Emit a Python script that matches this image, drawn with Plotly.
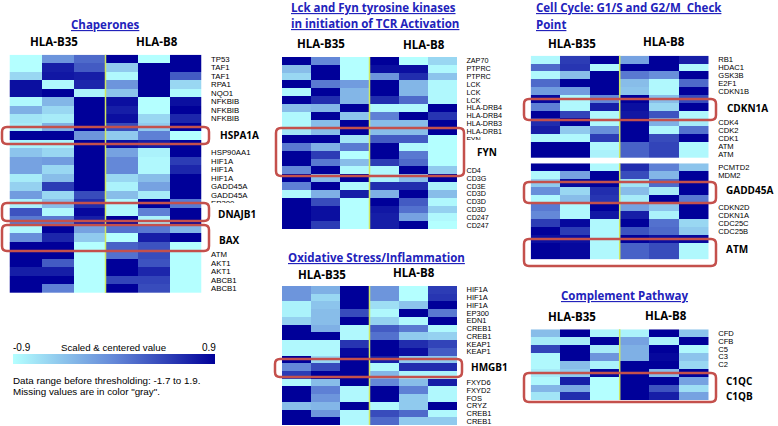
import plotly.graph_objects as go

W, H = 778, 426

# ---------- data: rows of [B35 a, b, c, B8 a, b, c] ----------
chaperone_genes = ["TP53", "TAF1", "TAF1", "RPA1", "NQO1", "NFKBIB", "NFKBIB", "NFKBIB", "", "", "", "HSP90AA1",
                   "HIF1A", "HIF1A", "HIF1A", "GADD45A", "GADD45A", "EP300", "", "", "BAX", "", "", "ATM",
                   "AKT1", "AKT1", "ABCB1", "ABCB1"]
chaperone_values = [
    [-0.9, -0.1, 0.2, 0.9, -0.9, 0.9], [-0.9, 0.7, 0.3, -0.5, 0.9, 0.9], [-0.6, 0.75, 0.7, -0.85, 0.9, 0.3],
    [0.8, -0.85, 0.65, -0.1, 0.9, -0.6], [0.8, 0.9, -0.8, -0.45, 0.9, -0.85], [-0.85, -0.35, 0.9, 0.8, -0.9, 0.8],
    [-0.3, -0.6, 0.9, 0.7, -0.9, 0.9], [-0.7, -0.75, 0.9, 0.8, -0.6, 0.65], [-0.75, -0.3, 0.9, 0.4, -0.5, 0.9],
    [0.9, 0.9, -0.1, -0.5, 0.05, -0.9], [-0.8, -0.8, 0.9, 0.8, 0.7, 0.9], [-0.45, -0.6, 0.9, -0.2, -0.8, 0.9],
    [-0.2, -0.15, 0.9, 0.0, -0.85, 0.5], [-0.2, -0.6, 0.9, 0.0, -0.85, 0.65], [-0.75, -0.4, 0.9, -0.6, -0.4, 0.9],
    [-0.55, 0.5, 0.9, -0.8, -0.2, 0.9], [-0.15, -0.6, 0.4, -0.4, -0.75, 0.9], [-0.8, -0.4, 0.6, -0.85, 0.9, 0.1],
    [0.35, -0.85, 0.85, -0.85, 0.05, 0.9], [0.1, 0.1, 0.7, 0.9, -0.8, 0.9], [-0.85, 0.9, -0.2, 0.15, 0.1, -0.35],
    [-0.05, 0.65, -0.5, -0.9, 0.7, 0.9], [0.9, 0.9, -0.9, 0.25, 0.35, -0.9], [0.9, 0.9, -0.9, 0.15, 0.4, -0.9],
    [0.9, 0.3, -0.9, 0.9, 0.35, -0.9], [0.7, 0.7, -0.9, 0.9, 0.65, -0.9], [0.9, 0.9, -0.9, 0.45, 0.45, -0.9],
    [0.9, 0.05, -0.9, 0.9, 0.4, -0.9],
]

lck_genes = ["ZAP70", "PTPRC", "PTPRC", "LCK", "LCK", "LCK", "HLA-DRB4", "HLA-DRB4", "HLA-DRB3", "HLA-DRB1", "FYN",
             "", "", "", "CD4", "CD3G", "CD3E", "CD3D", "CD3D", "CD3D", "CD247", "CD247"]
lck_values = [
    [0.9, 0.0, -0.9, 0.9, -0.9, -0.6], [-0.4, 0.9, -0.9, 0.8, 0.8, -0.85], [-0.6, 0.9, -0.9, -0.1, 0.6, -0.45],
    [0.9, 0.1, -0.15, 0.9, -0.35, -0.85], [-0.85, 0.9, -0.35, 0.9, -0.35, -0.85], [0.9, 0.6, -0.35, 0.6, 0.2, -0.85],
    [-0.4, -0.35, 0.9, -0.85, -0.85, 0.9], [-0.85, 0.9, -0.45, 0.05, 0.9, 0.55], [-0.85, -0.4, 0.9, -0.4, -0.4, 0.9],
    [-0.7, -0.4, 0.9, -0.4, -0.4, 0.9], [0.9, 0.9, -0.7, 0.3, 0.3, -0.9], [0.1, -0.3, 0.1, 0.9, -0.85, -0.9],
    [0.9, 0.5, -0.9, 0.9, 0.1, -0.9], [0.9, 0.1, -0.4, 0.5, 0.2, -0.9], [0.0, 0.9, -0.85, -0.85, 0.9, -0.5],
    [0.9, -0.4, 0.9, -0.8, -0.4, 0.9], [0.05, 0.9, -0.85, 0.6, 0.6, -0.8], [-0.85, -0.3, 0.7, -0.3, 0.9, -0.4],
    [0.9, 0.4, -0.9, 0.9, 0.3, -0.85], [0.9, 0.8, -0.9, 0.75, 0.15, -0.55], [0.9, 0.8, -0.9, 0.7, -0.2, -0.85],
    [0.9, 0.5, -0.9, 0.7, 0.9, -0.9],
]

oxidative_genes = ["HIF1A", "HIF1A", "HIF1A", "EP300", "EDN1", "CREB1", "CREB1", "KEAP1", "KEAP1", "", "", "",
                   "FXYD6", "FXYD2", "FOS", "CRYZ", "CREB1", "CREB1"]
oxidative_values = [
    [-0.1, -0.3, 0.9, -0.1, -0.9, 0.5], [-0.1, -0.6, 0.9, -0.1, -0.9, 0.55], [-0.8, -0.45, 0.9, -0.65, -0.45, 0.9],
    [-0.8, -0.4, 0.4, -0.85, 0.9, 0.1], [-0.55, -0.4, 0.9, -0.55, -0.85, 0.9], [0.9, -0.3, -0.85, 0.3, 0.1, -0.85],
    [0.9, 0.9, -0.85, 0.15, -0.5, -0.55], [-0.85, -0.85, 0.55, 0.9, 0.6, 0.45], [-0.85, -0.85, 0.85, 0.9, 0.8, 0.3],
    [0.9, -0.6, 0.9, 0.7, -0.5, -0.5], [0.0, 0.4, 0.9, -0.85, 0.6, 0.6], [0.5, 0.9, 0.9, -0.35, -0.8, -0.8],
    [-0.85, -0.4, 0.9, 0.0, -0.4, 0.7], [0.9, 0.05, -0.85, 0.9, 0.05, -0.85], [0.9, -0.1, -0.85, 0.9, -0.5, -0.85],
    [-0.4, -0.35, 0.9, -0.85, -0.5, 0.9], [0.9, -0.1, -0.85, 0.4, 0.2, -0.85], [0.9, 0.9, -0.85, 0.2, -0.5, -0.5],
]

cycle_top_genes = ["RB1", "HDAC1", "GSK3B", "E2F1", "CDKN1B", "", "", "", "CDK4", "CDK2", "CDK1", "ATM", "ATM"]
cycle_top_values = [
    [-0.85, 0.5, 0.9, -0.2, 0.9, 0.7], [0.2, 0.55, -0.85, 0.9, 0.9, -0.85], [-0.85, -0.4, 0.9, 0.1, -0.05, 0.9],
    [0.2, 0.9, 0.9, -0.4, -0.85, 0.2], [-0.15, -0.15, 0.9, -0.45, -0.85, 0.9], [0.85, -0.85, 0.0, 0.9, -0.4, 0.4],
    [0.05, -0.85, 0.7, 0.8, -0.6, 0.9], [0.9, 0.45, -0.85, 0.75, 0.35, -0.85], [0.6, 0.9, -0.85, 0.9, -0.3, -0.75],
    [0.7, -0.5, -0.05, 0.9, -0.85, 0.15], [-0.85, -0.85, 0.5, 0.9, 0.4, 0.9], [0.9, 0.9, -0.85, 0.25, 0.45, -0.85],
    [0.9, 0.9, -0.8, 0.25, 0.45, -0.85],
]

cycle_low_genes = ["PCMTD2", "MDM2", "", "", "", "CDKN2D", "CDKN1A", "CDC25C", "CDC25B", "", "", ""]
cycle_low_values = [
    [0.9, 0.9, -0.85, 0.6, 0.05, -0.45], [-0.85, -0.2, 0.9, 0.4, -0.35, 0.9], [-0.5, 0.85, 0.9, -0.7, 0.2, 0.9],
    [-0.05, -0.6, 0.6, -0.4, -0.75, 0.9], [-0.85, -0.4, 0.55, -0.75, 0.9, 0.1], [0.1, -0.85, 0.9, -0.2, -0.45, 0.9],
    [0.0, -0.85, 0.75, 0.7, -0.8, 0.9], [0.5, 0.85, -0.85, 0.9, 0.15, -0.6], [0.9, 0.5, -0.85, 0.35, 0.2, -0.5],
    [0.8, 0.8, -0.85, 0.9, 0.8, 0.85], [0.9, 0.85, -0.85, 0.25, 0.4, -0.85], [0.9, 0.85, -0.85, 0.25, 0.4, -0.85],
]

complement_genes = ["CFD", "CFB", "C5", "C3", "C2", "", "", "", ""]
complement_values = [
    [-0.4, 0.9, -0.8, -0.8, 0.9, -0.45], [-0.75, -0.75, 0.9, -0.2, -0.8, 0.9], [0.45, 0.9, -0.75, -0.3, 0.9, -0.85],
    [-0.85, 0.9, -0.1, -0.3, 0.85, -0.45], [-0.85, -0.4, -0.8, 0.9, 0.9, -0.6], [-0.75, -0.5, 0.85, 0.9, -0.4, 0.9],
    [-0.85, 0.7, -0.9, 0.9, 0.9, -0.2], [-0.35, -0.25, -0.9, 0.9, 0.35, -0.65], [-0.7, 0.6, -0.9, 0.9, 0.7, -0.2],
]

colour_min, colour_max = -0.9, 0.9

# ---------- layout geometry (pixels) ----------
panels = [
    (chaperone_values, chaperone_genes, 9.5, 201.5, 54.7, 293.0, 7.8),
    (lck_values, lck_genes, 282, 457, 57, 229, 7.2),
    (oxidative_values, oxidative_genes, 282, 457, 286, 425, 7.5),
    (cycle_top_values, cycle_top_genes, 530.7, 708.7, 55.7, 158, 7.6),
    (cycle_low_values, cycle_low_genes, 530.7, 708.7, 163.3, 259.5, 7.6),
    (complement_values, complement_genes, 530.7, 708.7, 329.3, 400, 7.6),
]


def px(x):
    return x / W


def py(y):
    return 1 - y / H


colorscale = [[0, "#b4ffff"], [0.5, "#6488d8"], [1, "#000099"]]
fig = go.Figure()
shapes, annotations = [], []
layout = {}

for i, (vals, genes, x0, x1, y0, y1, fs) in enumerate(panels, start=1):
    xn, yn = ("x", "y") if i == 1 else (f"x{i}", f"y{i}")
    xkey, ykey = ("xaxis", "yaxis") if i == 1 else (f"xaxis{i}", f"yaxis{i}")
    fig.add_trace(go.Heatmap(z=vals, x=list(range(6)), y=list(range(len(vals))), coloraxis="coloraxis",
                             xaxis=xn, yaxis=yn, hoverinfo="skip"))
    layout[xkey] = dict(domain=[px(x0), px(x1)], range=[-0.5, 5.5], visible=False, anchor=yn, fixedrange=True)
    layout[ykey] = dict(domain=[py(y1), py(y0)], range=[len(vals) - 0.5, -0.5], anchor=xn, side="right",
                        tickmode="array", tickvals=list(range(len(vals))), ticktext=genes, showgrid=False,
                        zeroline=False, showline=False, ticks="outside", ticklen=7, tickwidth=0, tickcolor="white",
                        tickfont=dict(family="Liberation Sans, Arial", size=fs, color="#000"),
                        fixedrange=True, automargin=False, ticklabeloverflow="allow")
    shapes.append(dict(type="line", xref=xn, yref=f"{yn} domain", x0=2.5, x1=2.5, y0=0, y1=1,
                       line=dict(color="#d0e860", width=1.5), layer="above"))

# white patches that cut off gene labels, as in the reference
masks = [(205, 203, 262, 222), (205, 227, 262, 248), (459, 140, 512, 163.5)]
for mx0, my0, mx1, my1 in masks:
    shapes.append(dict(type="rect", xref="paper", yref="paper", x0=px(mx0), x1=px(mx1), y0=py(my0), y1=py(my1),
                       fillcolor="white", line=dict(width=0), layer="above"))


def round_rect(x0, y0, x1, y1, r=5):
    a, b, c, d = px(x0), px(x1), py(y0), py(y1)
    rx, ry = r / W, r / H
    return (f"M{a+rx},{c} L{b-rx},{c} Q{b},{c} {b},{c-ry} L{b},{d+ry} Q{b},{d} {b-rx},{d} "
            f"L{a+rx},{d} Q{a},{d} {a},{d+ry} L{a},{c-ry} Q{a},{c} {a+rx},{c} Z")


boxes = [(2, 127, 209, 144), (2, 203, 209, 221), (2, 225, 209, 251),
         (276, 128, 464, 176), (275, 359, 462, 377),
         (524, 99, 716, 120), (524, 182, 716, 203), (524, 239, 716, 266), (524, 373, 716, 402)]
for b in boxes:
    shapes.append(dict(type="path", xref="paper", yref="paper", path=round_rect(*b),
                       line=dict(color="#c4504c", width=2.5), layer="above"))


def label(text, x, y, size=12, color="black", anchor="left", family="Liberation Sans, Arial"):
    annotations.append(dict(text=text, x=px(x), y=py(y), xref="paper", yref="paper", xanchor=anchor, yanchor="middle",
                            showarrow=False, align="left", font=dict(family=family, size=size, color=color)))


TITLE = "Open Sans, Noto Sans"
BLUE = "#2222bb"
for text, x, y, a in [("Chaperones", 105, 24, "center"), ("Lck and Fyn tyrosine kinases", 289, 7, "left"),
                      ("in initiation of TCR Activation", 289, 23, "left"),
                      ("Oxidative Stress/Inflammation", 286, 257, "left"),
                      ("Cell Cycle: G1/S and G2/M  Check", 534, 7, "left"), ("Point", 534, 24, "left"),
                      ("Complement Pathway", 624, 295, "center")]:
    label(f"<b><u>{text}</u></b>", x, y, size=11.5, color=BLUE, anchor=a, family=TITLE)

for text, x, y in [("HLA-B35", 28, 42), ("HLA-B8", 134, 42), ("HLA-B35", 295, 43), ("HLA-B8", 401, 45),
                   ("HLA-B35", 296, 274), ("HLA-B8", 391, 272), ("HLA-B35", 546, 43), ("HLA-B8", 641, 42),
                   ("HLA-B35", 546, 316), ("HLA-B8", 643, 315)]:
    label(f"<b>{text}</b>", x, y, size=11.5, family=TITLE)

for text, x, y in [("HSPA1A", 218, 135), ("DNAJB1", 216, 214), ("BAX", 217, 240), ("FYN", 475, 152),
                   ("HMGB1", 469, 367), ("CDKN1A", 725, 108), ("GADD45A", 724, 190), ("ATM", 724, 249),
                   ("C1QC", 724, 381), ("C1QB", 724, 396)]:
    label(f"<b>{text}</b>", x, y, size=10, family=TITLE)

label(f"{colour_min}", 11, 347, size=10)
label("Scaled &amp; centered value", 59, 347, size=9.7)
label(f"{colour_max}", 200, 347, size=10)
label("Data range before thresholding: -1.7 to 1.9.", 11, 380, size=9.8)
label('Missing values are in color "gray".', 11, 391, size=9.8)

fig.update_layout(
    width=W, height=H, margin=dict(l=0, r=0, t=0, b=0, pad=0), paper_bgcolor="white", plot_bgcolor="white",
    showlegend=False, shapes=shapes, annotations=annotations,
    coloraxis=dict(cmin=colour_min, cmax=colour_max, colorscale=colorscale,
                   colorbar=dict(orientation="h", x=px(13), xanchor="left", y=py(364), yanchor="bottom",
                                 lenmode="pixels", len=202, thicknessmode="pixels", thickness=10, xpad=0, ypad=0,
                                 outlinewidth=0, ticks="", showticklabels=False, borderwidth=0)),
    **layout,
)

fig.write_html("out.html", config={"displayModeBar": False},
               post_script="document.body.style.margin='0';document.documentElement.style.overflow='hidden';")
